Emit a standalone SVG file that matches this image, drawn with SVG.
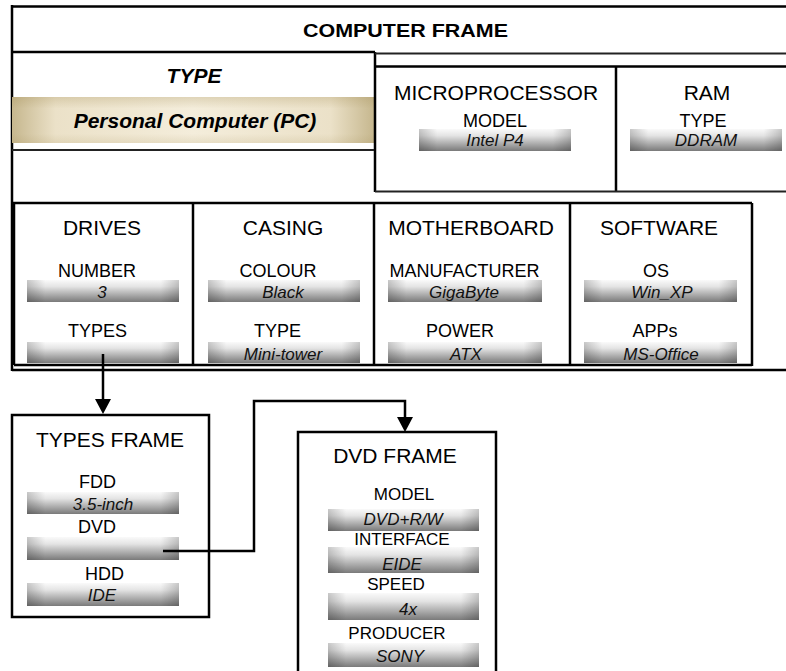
<svg xmlns="http://www.w3.org/2000/svg" width="786" height="671" viewBox="0 0 786 671">
<style>
  text { font-family: "Liberation Sans", Arial, sans-serif; fill: #000; text-anchor: middle; }
  .title { font-size: 18.5px; font-weight: bold; }
  .bi { font-size: 21px; font-weight: bold; font-style: italic; }
  .hdr { font-size: 21px; }
  .lbl { font-size: 18px; }
  .lbs { font-size: 17px; }
  .val { font-size: 17px; font-style: italic; fill: #111; }
  .ln { fill: none; stroke: #000; stroke-width: 2.5; }
  .thin { fill: none; stroke: #222; stroke-width: 1.8; }
  .box { fill: #fff; stroke: #000; stroke-width: 2.5; }
  .bar { fill: url(#gb); }
  .edge { fill: url(#ge); }
  .conn { fill: none; stroke: #000; stroke-width: 2.5; }
</style>
<defs>
  <linearGradient id="gb" x1="0" y1="0" x2="0" y2="1">
    <stop offset="0" stop-color="#fafafa"/>
    <stop offset="0.3" stop-color="#e4e4e4"/>
    <stop offset="1" stop-color="#7a7a7a"/>
  </linearGradient>
  <linearGradient id="ge" x1="0" y1="0" x2="1" y2="0">
    <stop offset="0" stop-color="#000" stop-opacity="0.2"/>
    <stop offset="0.12" stop-color="#000" stop-opacity="0"/>
    <stop offset="0.88" stop-color="#000" stop-opacity="0"/>
    <stop offset="1" stop-color="#000" stop-opacity="0.2"/>
  </linearGradient>
  <linearGradient id="gt" x1="0" y1="0" x2="1" y2="0">
    <stop offset="0" stop-color="#c6b78e"/>
    <stop offset="0.12" stop-color="#ebe1c8"/>
    <stop offset="0.5" stop-color="#f4eddb"/>
    <stop offset="0.88" stop-color="#ebe1c8"/>
    <stop offset="1" stop-color="#c6b78e"/>
  </linearGradient>
  <linearGradient id="gtv" x1="0" y1="0" x2="0" y2="1">
    <stop offset="0" stop-color="#a08a50" stop-opacity="0.25"/>
    <stop offset="0.25" stop-color="#a08a50" stop-opacity="0"/>
    <stop offset="0.8" stop-color="#a08a50" stop-opacity="0"/>
    <stop offset="1" stop-color="#a08a50" stop-opacity="0.15"/>
  </linearGradient>
  <marker id="arr" markerUnits="userSpaceOnUse" markerWidth="16" markerHeight="16" viewBox="0 0 16 16" refX="4" refY="8" orient="auto">
    <path d="M0,0 L15,8 L0,16 Z" fill="#000"/>
  </marker>
</defs>

<g id="computer-frame">
  <path class="ln" d="M12,6.5 H786 M12,5 V371 M12,370 H786"/>
  <text class="title" x="405.5" y="37" textLength="205" lengthAdjust="spacingAndGlyphs">COMPUTER FRAME</text>
</g>

<g id="type">
  <rect x="12" y="97" width="362" height="46" fill="url(#gt)"/>
  <rect x="12" y="97" width="362" height="46" fill="url(#gtv)"/>
  <path class="ln" d="M12,52 H375 M375,52 V192"/>
  <path class="thin" d="M12,150 H374"/>
  <text class="bi" x="194" y="83">TYPE</text>
  <text class="bi" x="195" y="128">Personal Computer (PC)</text>
</g>

<g id="microprocessor">
  <path class="thin" d="M375,53.5 H786"/>
  <path class="ln" d="M375,66.5 H786 M616,66.5 V191.5"/>
  <path class="thin" d="M375,191.5 H786"/>
  <text class="hdr" x="496" y="100">MICROPROCESSOR</text>
  <text class="lbl" x="495" y="126.5">MODEL</text>
  <rect class="bar" x="419" y="129" width="152" height="22"/>
  <rect class="edge" x="419" y="129" width="152" height="22"/>
  <text class="val" x="495" y="146">Intel P4</text>
</g>

<g id="ram">
  <text class="hdr" x="707" y="100">RAM</text>
  <text class="lbl" x="703" y="126.5">TYPE</text>
  <rect class="bar" x="630" y="129" width="152" height="22"/>
  <rect class="edge" x="630" y="129" width="152" height="22"/>
  <text class="val" x="706" y="146">DDRAM</text>
</g>

<g id="lower-row">
  <path class="ln" d="M12,203 H752 M14,203 V365 M14,365 H752 M752,203 V366"/>
</g>

<g id="drives">
  <path class="ln" d="M193,203 V365"/>
  <text class="hdr" x="102" y="235">DRIVES</text>
  <text class="lbl" x="97" y="277">NUMBER</text>
  <rect class="bar" x="27" y="280" width="152" height="22"/>
  <rect class="edge" x="27" y="280" width="152" height="22"/>
  <text class="val" x="102" y="298">3</text>
  <text class="lbl" x="97.5" y="337">TYPES</text>
  <rect class="bar" x="27" y="342" width="152" height="21"/>
  <rect class="edge" x="27" y="342" width="152" height="21"/>
</g>

<g id="casing">
  <path class="ln" d="M374,203 V365"/>
  <text class="hdr" x="283" y="235">CASING</text>
  <text class="lbl" x="278" y="277">COLOUR</text>
  <rect class="bar" x="208" y="280" width="152" height="22"/>
  <rect class="edge" x="208" y="280" width="152" height="22"/>
  <text class="val" x="283" y="298">Black</text>
  <text class="lbl" x="277.5" y="337">TYPE</text>
  <rect class="bar" x="208" y="342" width="152" height="21"/>
  <rect class="edge" x="208" y="342" width="152" height="21"/>
  <text class="val" x="283" y="360">Mini-tower</text>
</g>

<g id="motherboard">
  <path class="ln" d="M570,203 V365"/>
  <text class="hdr" x="471" y="235">MOTHERBOARD</text>
  <text class="lbl" x="464.5" y="277">MANUFACTURER</text>
  <rect class="bar" x="388" y="280" width="154" height="22"/>
  <rect class="edge" x="388" y="280" width="154" height="22"/>
  <text class="val" x="464" y="298">GigaByte</text>
  <text class="lbl" x="460" y="337">POWER</text>
  <rect class="bar" x="388" y="342" width="154" height="21"/>
  <rect class="edge" x="388" y="342" width="154" height="21"/>
  <text class="val" x="466" y="360">ATX</text>
</g>

<g id="software">
  <text class="hdr" x="659" y="235">SOFTWARE</text>
  <text class="lbl" x="656" y="277">OS</text>
  <rect class="bar" x="584" y="280" width="153" height="22"/>
  <rect class="edge" x="584" y="280" width="153" height="22"/>
  <text class="val" x="662" y="298">Win_XP</text>
  <text class="lbl" x="655" y="337">APPs</text>
  <rect class="bar" x="584" y="342" width="153" height="21"/>
  <rect class="edge" x="584" y="342" width="153" height="21"/>
  <text class="val" x="661" y="360">MS-Office</text>
</g>

<g id="types-frame">
  <rect class="box" x="12" y="415" width="197" height="202"/>
  <text class="hdr" x="110" y="447">TYPES FRAME</text>
  <text class="lbl" x="97.5" y="488">FDD</text>
  <rect class="bar" x="27" y="492" width="152" height="22"/>
  <rect class="edge" x="27" y="492" width="152" height="22"/>
  <text class="val" x="103" y="510">3.5-inch</text>
  <text class="lbl" x="97" y="533">DVD</text>
  <rect class="bar" x="27" y="537" width="152" height="23"/>
  <rect class="edge" x="27" y="537" width="152" height="23"/>
  <text class="lbl" x="104.5" y="580">HDD</text>
  <rect class="bar" x="27" y="583" width="152" height="23"/>
  <rect class="edge" x="27" y="583" width="152" height="23"/>
  <text class="val" x="102" y="601">IDE</text>
</g>

<g id="dvd-frame">
  <rect class="box" x="298" y="432" width="198" height="260"/>
  <text class="hdr" x="395" y="463">DVD FRAME</text>
  <text class="lbs" x="404" y="500">MODEL</text>
  <rect class="bar" x="328" y="509" width="151" height="22"/>
  <rect class="edge" x="328" y="509" width="151" height="22"/>
  <text class="val" x="403" y="524.5">DVD+R/W</text>
  <text class="lbs" x="402" y="544.5">INTERFACE</text>
  <rect class="bar" x="328" y="547" width="151" height="26"/>
  <rect class="edge" x="328" y="547" width="151" height="26"/>
  <text class="val" x="402" y="569.5">EIDE</text>
  <text class="lbs" x="396" y="589.5">SPEED</text>
  <rect class="bar" x="328" y="593" width="151" height="27"/>
  <rect class="edge" x="328" y="593" width="151" height="27"/>
  <text class="val" x="408" y="615">4x</text>
  <text class="lbs" x="397" y="639">PRODUCER</text>
  <rect class="bar" x="328" y="643" width="151" height="24"/>
  <rect class="edge" x="328" y="643" width="151" height="24"/>
  <text class="val" x="400" y="662">SONY</text>
</g>

<g id="connectors">
  <path class="conn" d="M103,354 V403" marker-end="url(#arr)"/>
  <path class="conn" d="M163,551 H254 V401 H405 V421" marker-end="url(#arr)"/>
</g>
</svg>
